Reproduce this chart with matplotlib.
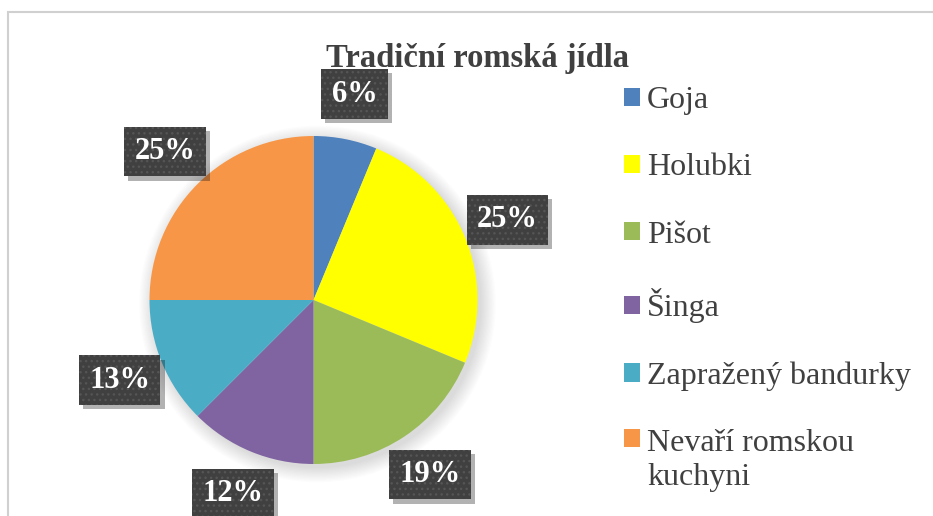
#!/usr/bin/env python3
import matplotlib.pyplot as plt
from matplotlib.patches import Circle, Rectangle
import matplotlib.patheffects as pe

# data of the chart
foods = ["Goja", "Holubki", "Pišot", "Šinga", "Zapražený bandurky", "Nevaří romskou\nkuchyni"]
counts = [1, 4, 3, 2, 2, 4]
pct_labels = ["6%", "25%", "19%", "12%", "13%", "25%"]
colors = ["#4F81BD", "#FFFF00", "#9BBB59", "#8064A2", "#4BACC6", "#F79646"]
title = "Tradiční romská jídla"


# shadow that does not copy the hatch of the box
class PlainShadow(pe.SimplePatchShadow):
    def draw_path(self, renderer, gc, tpath, affine, rgbFace):
        gc1 = renderer.new_gc()
        gc1.copy_properties(gc)
        gc1.set_hatch(None)
        super().draw_path(renderer, gc1, tpath, affine, rgbFace)
        gc1.restore()


W, H = 933, 516
fig = plt.figure(figsize=(W / 100, H / 100), dpi=100)
fig.patch.set_facecolor("white")

# one axes over the whole figure, units = pixels (y up)
ax = fig.add_axes([0, 0, 1, 1])

cx, cy, r = 313.5, 216, 164

# soft shadow under the pie
for k in range(12):
    ax.add_patch(Circle((cx + 4, cy - 4), r + k * 1.3, color="black", alpha=0.012, lw=0, zorder=0))

wedges, texts = ax.pie(counts, colors=colors, startangle=90, counterclock=False,
                       radius=r, center=(cx, cy), labels=pct_labels, labeldistance=1.28,
                       wedgeprops=dict(linewidth=0))

for t in texts:
    t.set_ha("center")
    t.set_va("center")
    t.set_fontfamily("Liberation Serif")
    t.set_fontweight("bold")
    t.set_fontsize(22)
    t.set_color("white")
    t.set_bbox(dict(boxstyle="square,pad=0.34", facecolor="#404040", edgecolor="#555555",
                    linewidth=0, hatch="..."))
    t.get_bbox_patch().set_path_effects([PlainShadow(offset=(3, -3), alpha=0.3,
                                                     shadow_rgbFace="#000000"),
                                         pe.Normal()])

ax.set_xlim(0, W)
ax.set_ylim(0, H)
ax.set_aspect("equal")
ax.axis("off")

# chart border (only top and left visible in the crop)
fig.patches.append(Rectangle((8 / W, -0.1), 1.2, (H - 12) / H + 0.1, transform=fig.transFigure,
                             fill=False, edgecolor="#D0D0D0", linewidth=1.5))

# title
fig.text(478 / W, 1 - 66.5 / H, title, ha="center", va="baseline", fontsize=23.5,
         fontweight="bold", family="Liberation Serif", color="#404040")

# legend
leg = fig.legend(wedges, foods, loc="upper left", bbox_to_anchor=(624 / W, 1 - 86 / H),
                 frameon=False, prop=dict(family="Liberation Serif", size=23),
                 labelcolor="#404040", handlelength=0.5, handleheight=0.5,
                 handletextpad=0.22, labelspacing=1.2, borderpad=0, borderaxespad=0)
# square of the two-line entry sits at its first line
leg._legend_handle_box.get_children()[0].get_children()[-1].align = "top"

plt.savefig("out.png", dpi=100)
